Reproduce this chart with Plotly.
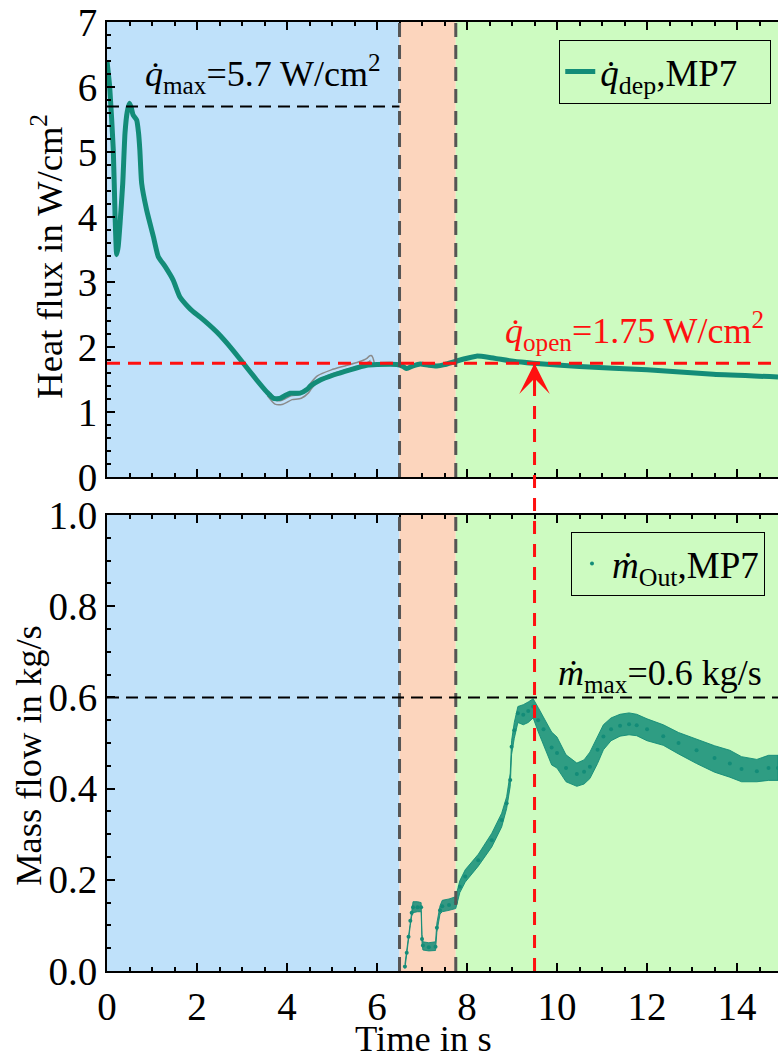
import plotly.graph_objects as go
from plotly.subplots import make_subplots

# ---------------- data ----------------
# Heat flux q_dep (MP7), W/cm^2
t_q = [0.0, 0.06, 0.14, 0.18, 0.215, 0.25, 0.29, 0.35, 0.4, 0.45, 0.5, 0.54, 0.58,
       0.66, 0.7, 0.73, 0.77, 0.88, 1.03, 1.14, 1.29, 1.47, 1.62, 1.8, 1.92, 2.07,
       2.44, 2.8, 3.03, 3.33, 3.55, 3.7, 3.84, 3.95, 4.07, 4.29, 4.45, 4.52, 4.73,
       5.03, 5.4, 5.77, 6.0, 6.44, 6.58, 6.66, 6.8, 6.96, 7.15, 7.33, 7.5, 7.7,
       7.95, 8.21, 8.5, 9.03, 9.47, 10.5, 12.0, 13.47, 14.91]
q_dep = [6.4, 6.0, 5.03, 4.0, 3.42, 3.55, 3.9, 4.52, 5.29, 5.62, 5.75, 5.68, 5.57,
         5.49, 5.3, 5.03, 4.52, 4.11, 3.7, 3.39, 3.24, 3.03, 2.77, 2.62, 2.54, 2.46,
         2.23, 1.95, 1.75, 1.49, 1.31, 1.21, 1.21, 1.25, 1.29, 1.29, 1.35, 1.40, 1.49,
         1.57, 1.65, 1.72, 1.73, 1.73, 1.70, 1.67, 1.71, 1.74, 1.72, 1.71, 1.73, 1.77,
         1.82, 1.86, 1.84, 1.78, 1.75, 1.70, 1.65, 1.58, 1.54]

# secondary (grey) heat-flux trace, visible only where it departs from the main one
t_grey = [3.6, 3.75, 3.9, 4.1, 4.3, 4.45, 4.52, 4.7, 5.0, 5.3, 5.6, 5.8, 5.86, 5.9]
q_grey = [1.27, 1.15, 1.15, 1.22, 1.24, 1.32, 1.39, 1.53, 1.62, 1.68, 1.74, 1.80, 1.84, 1.73]

# Mass flow m_out (MP7), kg/s : scatter band (lower / upper edge) and centre
t_m = [6.62, 6.66, 6.70, 6.74, 6.77, 6.80, 6.90, 6.98, 7.0, 7.02, 7.15, 7.30, 7.33,
       7.40, 7.45, 7.60, 7.75, 7.84, 7.96, 8.25, 8.55, 8.77, 8.88, 8.96, 8.99, 9.05,
       9.13, 9.25, 9.36, 9.47, 9.58, 9.70, 9.88, 10.0, 10.2, 10.44, 10.6, 10.73, 10.9,
       11.03, 11.2, 11.4, 11.6, 11.77, 12.0, 12.36, 12.7, 13.1, 13.5, 13.84, 14.1,
       14.44, 14.7, 14.91]
m_lo = [0.005, 0.03, 0.065, 0.10, 0.12, 0.128, 0.13, 0.13, 0.06, 0.046, 0.044, 0.045,
        0.085, 0.125, 0.13, 0.133, 0.137, 0.172, 0.195, 0.23, 0.272, 0.316, 0.356, 0.405,
        0.475, 0.51, 0.545, 0.54, 0.545, 0.555, 0.525, 0.495, 0.452, 0.445, 0.415, 0.405, 0.41,
        0.422, 0.455, 0.485, 0.505, 0.515, 0.518, 0.516, 0.505, 0.495, 0.476, 0.455, 0.436, 0.425,
        0.415, 0.415, 0.418, 0.418]
m_hi = [0.015, 0.045, 0.08, 0.115, 0.138, 0.152, 0.152, 0.15, 0.08, 0.064, 0.062, 0.064,
        0.105, 0.143, 0.155, 0.158, 0.163, 0.198, 0.222, 0.256, 0.302, 0.346, 0.382, 0.434,
        0.505, 0.545, 0.58, 0.584, 0.59, 0.597, 0.578, 0.555, 0.524, 0.513, 0.474, 0.456, 0.463,
        0.48, 0.514, 0.54, 0.555, 0.563, 0.566, 0.563, 0.553, 0.54, 0.523, 0.508, 0.494, 0.484,
        0.47, 0.464, 0.473, 0.473]
m_mid = [0.01, 0.04, 0.075, 0.11, 0.128, 0.14, 0.14, 0.14, 0.07, 0.056, 0.052, 0.053,
         0.095, 0.133, 0.142, 0.145, 0.15, 0.185, 0.207, 0.243, 0.287, 0.331, 0.368, 0.419,
         0.492, 0.528, 0.565, 0.562, 0.57, 0.58, 0.55, 0.53, 0.49, 0.478, 0.445, 0.432,
         0.437, 0.448, 0.485, 0.514, 0.53, 0.538, 0.541, 0.539, 0.53, 0.515, 0.5, 0.484,
         0.467, 0.455, 0.443, 0.438, 0.445, 0.445]

# phases and reference values
phase_edges = [0.0, 6.5, 7.75, 14.91]
phase_colors = ["#bfe1fa", "#fcd5bd", "#cdfbc1"]
Q_MAX = 5.7
Q_OPEN = 1.75
M_MAX = 0.6
T_OPEN = 9.5
X_RANGE = [0.0, 14.91]
Q_RANGE = [0, 7]
M_RANGE = [0, 1.0]

TEAL = "#138c78"
RED = "#ff1010"
FONT = "Liberation Serif"
FS = 36          # annotation text
FS_TICK = 39     # tick labels
FS_TITLE = 36.5  # axis titles
FS_LEG = 37      # legends
NB = "\u00a0"

# ---------------- figure ----------------
fig = make_subplots(rows=2, cols=1)
TOP_DOM = [0.5205, 1.0]
BOT_DOM = [0.0, 0.4805]

fig.add_trace(go.Scatter(x=t_grey, y=q_grey, mode="lines",
                         line=dict(color="#8a8a8a", width=5.5, shape="spline", smoothing=0.6),
                         showlegend=False, hoverinfo="skip"), row=1, col=1)
fig.add_trace(go.Scatter(x=t_grey, y=q_grey, mode="lines",
                         line=dict(color=phase_colors[0], width=2.5, shape="spline", smoothing=0.6),
                         showlegend=False, hoverinfo="skip"), row=1, col=1)
fig.add_trace(go.Scatter(x=t_q, y=q_dep, mode="lines",
                         line=dict(color=TEAL, width=5, shape="spline", smoothing=0.5),
                         name="<i>q̇</i><sub>dep</sub>,MP7" + NB * 3, legend="legend"),
              row=1, col=1)

# mass-flow scatter band
fig.add_trace(go.Scatter(x=t_m + t_m[::-1], y=m_hi + m_lo[::-1], mode="lines",
                         fill="toself", fillcolor="rgba(19,140,120,0.85)",
                         line=dict(color="rgba(19,140,120,0.9)", width=1),
                         showlegend=False, hoverinfo="skip"), row=2, col=1)
fig.add_trace(go.Scatter(x=t_m, y=m_mid, mode="markers",
                         marker=dict(color=TEAL, size=4),
                         name="<i>ṁ</i><sub>Out</sub>,MP7", legend="legend2"),
              row=2, col=1)

# phase backgrounds + phase boundaries
for xr, yr in (("x", "y domain"), ("x2", "y2 domain")):
    for i, c in enumerate(phase_colors):
        fig.add_shape(type="rect", xref=xr, yref=yr, x0=phase_edges[i], x1=phase_edges[i + 1],
                      y0=0, y1=1, fillcolor=c, line_width=0, layer="below")
    for xe in phase_edges[1:3]:
        fig.add_shape(type="line", xref=xr, yref=yr, x0=xe, x1=xe, y0=0, y1=1,
                      line=dict(color="#555555", width=3, dash="14px,8px"))

# reference lines
fig.add_shape(type="line", xref="x", yref="y", x0=0, x1=phase_edges[1], y0=Q_MAX, y1=Q_MAX,
              line=dict(color="black", width=2, dash="12px,7px"))
fig.add_shape(type="line", xref="x", yref="y", x0=X_RANGE[0], x1=X_RANGE[1], y0=Q_OPEN, y1=Q_OPEN,
              line=dict(color=RED, width=3, dash="13px,8px"))
fig.add_shape(type="line", xref="x2", yref="y2", x0=X_RANGE[0], x1=X_RANGE[1], y0=M_MAX, y1=M_MAX,
              line=dict(color="black", width=2, dash="12px,7px"))
x_open_paper = (T_OPEN - X_RANGE[0]) / (X_RANGE[1] - X_RANGE[0])
y_open_paper = TOP_DOM[0] + (Q_OPEN - Q_RANGE[0]) / (Q_RANGE[1] - Q_RANGE[0]) * (TOP_DOM[1] - TOP_DOM[0])
fig.add_shape(type="line", xref="paper", yref="paper", x0=x_open_paper, x1=x_open_paper,
              y0=BOT_DOM[0], y1=y_open_paper,
              line=dict(color=RED, width=3, dash="13px,10px"))
fig.add_annotation(x=T_OPEN, y=Q_OPEN, xref="x", yref="y", showarrow=True, ax=0, ay=26,
                   arrowhead=3, arrowsize=1.7, arrowwidth=3, arrowcolor=RED, text="")

# text annotations
fig.add_annotation(x=0.8, y=6.2, xref="x", yref="y", xanchor="left", yanchor="middle",
                   showarrow=False, text="<i>q̇</i><sub>max</sub>=5.7 W/cm<sup>2</sup>",
                   font=dict(family=FONT, size=FS, color="black"))
fig.add_annotation(x=8.8, y=2.25, xref="x", yref="y", xanchor="left", yanchor="middle",
                   showarrow=False, text="<i>q̇</i><sub>open</sub>=1.75 W/cm<sup>2</sup>",
                   font=dict(family=FONT, size=FS, color=RED))
fig.add_annotation(x=9.98, y=0.647, xref="x2", yref="y2", xanchor="left", yanchor="middle",
                   showarrow=False, text="<i>ṁ</i><sub>max</sub>=0.6 kg/s",
                   font=dict(family=FONT, size=FS, color="black"))

# axis titles as annotations
fig.add_annotation(x=-0.09, y=0.7534, xref="paper", yref="paper", textangle=-90,
                   xanchor="center", yanchor="middle",
                   showarrow=False, text="Heat flux in W/cm<sup>2</sup>",
                   font=dict(family=FONT, size=FS_TITLE, color="black"))
fig.add_annotation(x=-0.118, y=0.2276, xref="paper", yref="paper", textangle=-90,
                   xanchor="center", yanchor="middle",
                   showarrow=False, text="Mass flow in kg/s",
                   font=dict(family=FONT, size=FS_TITLE, color="black"))
fig.add_annotation(x=0.4724, y=-0.0716, xref="paper", yref="paper",
                   xanchor="center", yanchor="middle",
                   showarrow=False, text="Time in s",
                   font=dict(family=FONT, size=FS_TITLE, color="black"))

axis_common = dict(showline=True, linecolor="black", linewidth=2, ticks="inside",
                   ticklen=8, tickwidth=2, tickcolor="black", showgrid=False, zeroline=False,
                   tickfont=dict(family=FONT, size=FS_TICK, color="black"))
fig.update_xaxes(**axis_common, range=X_RANGE, dtick=2, tick0=0, mirror="ticks",
                 minor=dict(ticks="inside", dtick=0.5, ticklen=4, tickwidth=1.5,
                            tickcolor="black", showgrid=False))
fig.update_xaxes(showticklabels=False, domain=[0, 1], row=1, col=1)
fig.update_xaxes(domain=[0, 1], row=2, col=1)
fig.update_yaxes(**axis_common, mirror=False)
fig.update_yaxes(range=Q_RANGE, dtick=1, domain=TOP_DOM,
                 minor=dict(ticks="inside", dtick=0.2, ticklen=4, tickwidth=1.5,
                            tickcolor="black", showgrid=False), row=1, col=1)
fig.update_yaxes(range=M_RANGE, dtick=0.2, tickformat=".1f", domain=BOT_DOM,
                 minor=dict(ticks="inside", dtick=0.05, ticklen=4, tickwidth=1.5,
                            tickcolor="black", showgrid=False), row=2, col=1)

legend_common = dict(xanchor="left", yanchor="top", bgcolor="rgba(0,0,0,0)",
                     bordercolor="black", borderwidth=1,
                     font=dict(family=FONT, size=FS_LEG, color="black"))
fig.update_layout(
    width=778, height=1054,
    margin=dict(l=107, r=0, t=22, b=83),
    paper_bgcolor="white", plot_bgcolor="white",
    font=dict(family=FONT, size=FS, color="black"),
    legend=dict(x=0.674, y=0.981, **legend_common),
    legend2=dict(x=0.6915, y=0.4626, **legend_common),
)

fig.write_html("out.html", config={"displayModeBar": False},
               post_script="document.body.style.margin='0';document.body.style.overflow='hidden';")
